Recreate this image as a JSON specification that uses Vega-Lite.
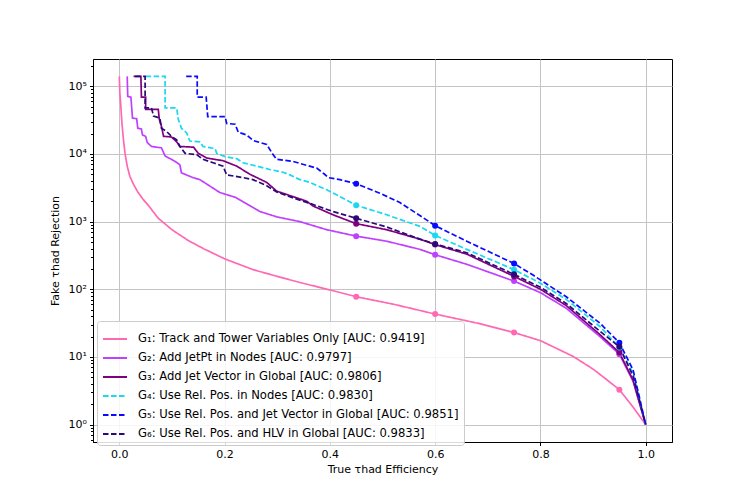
{
  "$schema": "https://vega.github.io/schema/vega-lite/v6.json",
  "width": 579,
  "height": 383,
  "autosize": {"type": "none"},
  "padding": {"left": 93, "top": 59, "right": 75, "bottom": 56},
  "background": "white",
  "config": {
    "font": "DejaVu Sans",
    "view": {"stroke": "black", "strokeWidth": 1},
    "axis": {
      "labelFont": "DejaVu Sans",
      "labelFontSize": 11,
      "labelColor": "black",
      "titleFont": "DejaVu Sans",
      "titleFontSize": 11,
      "titleFontWeight": "normal",
      "titleColor": "black",
      "domainColor": "black",
      "tickColor": "black",
      "tickSize": 3.5,
      "gridColor": "#c4c4c4",
      "gridWidth": 1
    },
    "legend": {
      "labelFont": "DejaVu Sans",
      "labelFontSize": 11.6,
      "labelColor": "black",
      "labelLimit": 0
    }
  },
  "datasets": {
    "curves": [
      {"g": "G1", "x": 0.0, "y": 140000}, {"g": "G1", "x": 0.001, "y": 79400}, {"g": "G1", "x": 0.0025, "y": 56200},
      {"g": "G1", "x": 0.005, "y": 28200}, {"g": "G1", "x": 0.008, "y": 15800}, {"g": "G1", "x": 0.011, "y": 10000},
      {"g": "G1", "x": 0.015, "y": 6610}, {"g": "G1", "x": 0.02, "y": 4680}, {"g": "G1", "x": 0.027, "y": 3550},
      {"g": "G1", "x": 0.035, "y": 2750}, {"g": "G1", "x": 0.045, "y": 2140}, {"g": "G1", "x": 0.055, "y": 1740},
      {"g": "G1", "x": 0.074, "y": 1120}, {"g": "G1", "x": 0.1, "y": 759}, {"g": "G1", "x": 0.131, "y": 525},
      {"g": "G1", "x": 0.16, "y": 398}, {"g": "G1", "x": 0.2, "y": 282}, {"g": "G1", "x": 0.254, "y": 195},
      {"g": "G1", "x": 0.3, "y": 155}, {"g": "G1", "x": 0.343, "y": 126}, {"g": "G1", "x": 0.4, "y": 97.7},
      {"g": "G1", "x": 0.45, "y": 77.6}, {"g": "G1", "x": 0.52, "y": 60.3}, {"g": "G1", "x": 0.6, "y": 43.0},
      {"g": "G1", "x": 0.68, "y": 31.6}, {"g": "G1", "x": 0.75, "y": 22.9}, {"g": "G1", "x": 0.8, "y": 17.4},
      {"g": "G1", "x": 0.862, "y": 10.2}, {"g": "G1", "x": 0.9, "y": 6.61}, {"g": "G1", "x": 0.925, "y": 4.68},
      {"g": "G1", "x": 0.95, "y": 3.28}, {"g": "G1", "x": 0.975, "y": 1.86}, {"g": "G1", "x": 1.0, "y": 1},

      {"g": "G2", "x": 0.015, "y": 140000}, {"g": "G2", "x": 0.016, "y": 70800}, {"g": "G2", "x": 0.022, "y": 69200},
      {"g": "G2", "x": 0.025, "y": 33900}, {"g": "G2", "x": 0.033, "y": 33100}, {"g": "G2", "x": 0.035, "y": 24000},
      {"g": "G2", "x": 0.042, "y": 23400}, {"g": "G2", "x": 0.044, "y": 19100}, {"g": "G2", "x": 0.05, "y": 18200},
      {"g": "G2", "x": 0.053, "y": 14800}, {"g": "G2", "x": 0.061, "y": 12900}, {"g": "G2", "x": 0.08, "y": 12300},
      {"g": "G2", "x": 0.087, "y": 9330}, {"g": "G2", "x": 0.106, "y": 7760}, {"g": "G2", "x": 0.115, "y": 6920},
      {"g": "G2", "x": 0.118, "y": 5250}, {"g": "G2", "x": 0.14, "y": 4470}, {"g": "G2", "x": 0.153, "y": 4170},
      {"g": "G2", "x": 0.191, "y": 2690}, {"g": "G2", "x": 0.22, "y": 2290}, {"g": "G2", "x": 0.267, "y": 1410},
      {"g": "G2", "x": 0.3, "y": 1170}, {"g": "G2", "x": 0.343, "y": 1000}, {"g": "G2", "x": 0.394, "y": 759},
      {"g": "G2", "x": 0.45, "y": 610}, {"g": "G2", "x": 0.508, "y": 513}, {"g": "G2", "x": 0.571, "y": 389},
      {"g": "G2", "x": 0.6, "y": 324}, {"g": "G2", "x": 0.66, "y": 234}, {"g": "G2", "x": 0.75, "y": 132},
      {"g": "G2", "x": 0.8, "y": 89.1}, {"g": "G2", "x": 0.849, "y": 52.5}, {"g": "G2", "x": 0.913, "y": 20.0},
      {"g": "G2", "x": 0.95, "y": 11.0}, {"g": "G2", "x": 0.976, "y": 4.37}, {"g": "G2", "x": 1.0, "y": 1},

      {"g": "G3", "x": 0.027, "y": 140000}, {"g": "G3", "x": 0.041, "y": 140000}, {"g": "G3", "x": 0.042, "y": 69200},
      {"g": "G3", "x": 0.05, "y": 69200}, {"g": "G3", "x": 0.05, "y": 45700}, {"g": "G3", "x": 0.074, "y": 45700},
      {"g": "G3", "x": 0.076, "y": 32400}, {"g": "G3", "x": 0.08, "y": 25700}, {"g": "G3", "x": 0.084, "y": 18200},
      {"g": "G3", "x": 0.099, "y": 17800}, {"g": "G3", "x": 0.109, "y": 15100}, {"g": "G3", "x": 0.115, "y": 12900},
      {"g": "G3", "x": 0.141, "y": 12600}, {"g": "G3", "x": 0.15, "y": 10200}, {"g": "G3", "x": 0.166, "y": 8710},
      {"g": "G3", "x": 0.197, "y": 7940}, {"g": "G3", "x": 0.223, "y": 6610}, {"g": "G3", "x": 0.248, "y": 5010},
      {"g": "G3", "x": 0.28, "y": 3800}, {"g": "G3", "x": 0.299, "y": 2820}, {"g": "G3", "x": 0.33, "y": 2340},
      {"g": "G3", "x": 0.356, "y": 2000}, {"g": "G3", "x": 0.368, "y": 1700}, {"g": "G3", "x": 0.406, "y": 1260},
      {"g": "G3", "x": 0.45, "y": 933}, {"g": "G3", "x": 0.508, "y": 759}, {"g": "G3", "x": 0.571, "y": 550},
      {"g": "G3", "x": 0.6, "y": 457}, {"g": "G3", "x": 0.66, "y": 331}, {"g": "G3", "x": 0.75, "y": 155},
      {"g": "G3", "x": 0.8, "y": 100}, {"g": "G3", "x": 0.849, "y": 57.5}, {"g": "G3", "x": 0.913, "y": 21.4},
      {"g": "G3", "x": 0.95, "y": 11.6}, {"g": "G3", "x": 0.976, "y": 4.57}, {"g": "G3", "x": 1.0, "y": 1},

      {"g": "G4", "x": 0.05, "y": 140000}, {"g": "G4", "x": 0.087, "y": 140000}, {"g": "G4", "x": 0.087, "y": 47900},
      {"g": "G4", "x": 0.109, "y": 47900}, {"g": "G4", "x": 0.112, "y": 32400}, {"g": "G4", "x": 0.118, "y": 24000},
      {"g": "G4", "x": 0.128, "y": 20400}, {"g": "G4", "x": 0.134, "y": 15500}, {"g": "G4", "x": 0.153, "y": 15100},
      {"g": "G4", "x": 0.159, "y": 12900}, {"g": "G4", "x": 0.182, "y": 12000}, {"g": "G4", "x": 0.185, "y": 10200},
      {"g": "G4", "x": 0.201, "y": 9120}, {"g": "G4", "x": 0.223, "y": 8510}, {"g": "G4", "x": 0.235, "y": 7410},
      {"g": "G4", "x": 0.261, "y": 6610}, {"g": "G4", "x": 0.286, "y": 5890}, {"g": "G4", "x": 0.311, "y": 5370},
      {"g": "G4", "x": 0.324, "y": 4900}, {"g": "G4", "x": 0.343, "y": 4170}, {"g": "G4", "x": 0.362, "y": 3800},
      {"g": "G4", "x": 0.394, "y": 2950}, {"g": "G4", "x": 0.419, "y": 2340}, {"g": "G4", "x": 0.45, "y": 1740},
      {"g": "G4", "x": 0.508, "y": 1260}, {"g": "G4", "x": 0.571, "y": 851}, {"g": "G4", "x": 0.6, "y": 624},
      {"g": "G4", "x": 0.66, "y": 389}, {"g": "G4", "x": 0.75, "y": 195}, {"g": "G4", "x": 0.8, "y": 123},
      {"g": "G4", "x": 0.849, "y": 70.8}, {"g": "G4", "x": 0.913, "y": 28.2}, {"g": "G4", "x": 0.95, "y": 13.8},
      {"g": "G4", "x": 0.976, "y": 5.75}, {"g": "G4", "x": 1.0, "y": 1},

      {"g": "G5", "x": 0.127, "y": 140000}, {"g": "G5", "x": 0.148, "y": 140000}, {"g": "G5", "x": 0.148, "y": 69200},
      {"g": "G5", "x": 0.165, "y": 69200}, {"g": "G5", "x": 0.168, "y": 35500}, {"g": "G5", "x": 0.201, "y": 35500},
      {"g": "G5", "x": 0.204, "y": 28200}, {"g": "G5", "x": 0.22, "y": 27500}, {"g": "G5", "x": 0.226, "y": 20900},
      {"g": "G5", "x": 0.242, "y": 19100}, {"g": "G5", "x": 0.254, "y": 15800}, {"g": "G5", "x": 0.28, "y": 13800},
      {"g": "G5", "x": 0.292, "y": 9770}, {"g": "G5", "x": 0.299, "y": 8320}, {"g": "G5", "x": 0.33, "y": 7760},
      {"g": "G5", "x": 0.343, "y": 7240}, {"g": "G5", "x": 0.375, "y": 6170}, {"g": "G5", "x": 0.39, "y": 5010},
      {"g": "G5", "x": 0.397, "y": 4470}, {"g": "G5", "x": 0.419, "y": 4170}, {"g": "G5", "x": 0.45, "y": 3630},
      {"g": "G5", "x": 0.495, "y": 2630}, {"g": "G5", "x": 0.533, "y": 1910}, {"g": "G5", "x": 0.571, "y": 1230},
      {"g": "G5", "x": 0.6, "y": 871}, {"g": "G5", "x": 0.66, "y": 513}, {"g": "G5", "x": 0.75, "y": 240},
      {"g": "G5", "x": 0.786, "y": 162}, {"g": "G5", "x": 0.849, "y": 77.6}, {"g": "G5", "x": 0.913, "y": 31.6},
      {"g": "G5", "x": 0.95, "y": 16.2}, {"g": "G5", "x": 0.976, "y": 6.46}, {"g": "G5", "x": 1.0, "y": 1},

      {"g": "G6", "x": 0.03, "y": 140000}, {"g": "G6", "x": 0.049, "y": 140000}, {"g": "G6", "x": 0.049, "y": 47900},
      {"g": "G6", "x": 0.061, "y": 47900}, {"g": "G6", "x": 0.065, "y": 36300}, {"g": "G6", "x": 0.077, "y": 33900},
      {"g": "G6", "x": 0.08, "y": 24000}, {"g": "G6", "x": 0.09, "y": 21400}, {"g": "G6", "x": 0.099, "y": 18200},
      {"g": "G6", "x": 0.109, "y": 16200}, {"g": "G6", "x": 0.115, "y": 12900}, {"g": "G6", "x": 0.125, "y": 10200},
      {"g": "G6", "x": 0.147, "y": 9770}, {"g": "G6", "x": 0.159, "y": 8320}, {"g": "G6", "x": 0.178, "y": 7410},
      {"g": "G6", "x": 0.197, "y": 6610}, {"g": "G6", "x": 0.204, "y": 4900}, {"g": "G6", "x": 0.235, "y": 4470},
      {"g": "G6", "x": 0.254, "y": 4170}, {"g": "G6", "x": 0.28, "y": 3390}, {"g": "G6", "x": 0.299, "y": 2750},
      {"g": "G6", "x": 0.33, "y": 2240}, {"g": "G6", "x": 0.362, "y": 1860}, {"g": "G6", "x": 0.406, "y": 1410},
      {"g": "G6", "x": 0.45, "y": 1120}, {"g": "G6", "x": 0.508, "y": 832}, {"g": "G6", "x": 0.571, "y": 550},
      {"g": "G6", "x": 0.6, "y": 468}, {"g": "G6", "x": 0.66, "y": 347}, {"g": "G6", "x": 0.75, "y": 166},
      {"g": "G6", "x": 0.8, "y": 107}, {"g": "G6", "x": 0.849, "y": 61.7}, {"g": "G6", "x": 0.913, "y": 24.0},
      {"g": "G6", "x": 0.95, "y": 14.1}, {"g": "G6", "x": 0.976, "y": 5.25}, {"g": "G6", "x": 1.0, "y": 1}
    ]
  },
  "data": {"name": "curves"},
  "layer": [
    {
      "mark": {"type": "line", "strokeWidth": 1.7, "clip": true},
      "encoding": {
        "x": {
          "field": "x",
          "type": "quantitative",
          "scale": {"domain": [-0.05, 1.05], "nice": false, "zero": false},
          "axis": {
            "title": "True τhad Efficiency",
            "values": [0, 0.2, 0.4, 0.6, 0.8, 1.0],
            "format": ".1f",
            "grid": true,
            "labelPadding": 3,
            "titlePadding": 4
          }
        },
        "y": {
          "field": "y",
          "type": "quantitative",
          "scale": {"type": "log", "domain": [0.553, 253000], "nice": false},
          "axis": {
            "title": "Fake τhad Rejection",
            "values": [1, 10, 100, 1000, 10000, 100000],
            "labelExpr": "'10' + ['⁰','¹','²','³','⁴','⁵'][round(log(datum.value) / LN10)]",
            "grid": true,
            "labelPadding": 3,
            "titlePadding": 8
          }
        },
        "color": {
          "field": "g",
          "type": "nominal",
          "scale": {
            "domain": ["G1", "G2", "G3", "G4", "G5", "G6"],
            "range": ["#ff69b4", "#bf40ff", "#800080", "#1ad8f0", "#0a0aff", "#2a0a78"]
          },
          "legend": {
            "title": null,
            "orient": "none",
            "legendX": 4,
            "legendY": 262,
            "padding": 5,
            "fillColor": "rgba(255,255,255,0.85)",
            "strokeColor": "#cccccc",
            "cornerRadius": 3,
            "symbolSize": 576,
            "symbolStrokeWidth": 2,
            "labelOffset": 10,
            "labelLimit": 0,
            "rowPadding": 0,
            "labelExpr": "['G₁: Track and Tower Variables Only [AUC: 0.9419]', 'G₂: Add JetPt in Nodes [AUC: 0.9797]', 'G₃: Add Jet Vector in Global [AUC: 0.9806]', 'G₄: Use Rel. Pos. in Nodes [AUC: 0.9830]', 'G₅: Use Rel. Pos. and Jet Vector in Global [AUC: 0.9851]', 'G₆: Use Rel. Pos. and HLV in Global [AUC: 0.9833]'][indexof(['G1','G2','G3','G4','G5','G6'], datum.label)]"
          }
        },
        "strokeDash": {
          "field": "g",
          "type": "nominal",
          "scale": {
            "domain": ["G1", "G2", "G3", "G4", "G5", "G6"],
            "range": [[1, 0], [1, 0], [1, 0], [5.5, 2.5], [5.5, 2.5], [5.5, 2.5]]
          },
          "legend": null
        },
        "order": [
          {"field": "x", "type": "quantitative", "sort": "ascending"},
          {"field": "y", "type": "quantitative", "sort": "descending"}
        ]
      }
    },
    {
      "transform": [{"filter": "indexof([0.45, 0.6, 0.75, 0.95], datum.x) >= 0"}],
      "mark": {"type": "circle", "size": 36, "opacity": 1},
      "encoding": {
        "x": {"field": "x", "type": "quantitative"},
        "y": {
          "field": "y",
          "type": "quantitative",
          "axis": {
            "orient": "left",
            "title": null,
            "labels": false,
            "grid": false,
            "domain": false,
            "tickSize": 2.5,
            "tickColor": "black",
            "values": [0.6, 0.7, 0.8, 0.9, 2, 3, 4, 5, 6, 7, 8, 9, 20, 30, 40, 50, 60, 70, 80, 90, 200, 300, 400, 500, 600, 700, 800, 900, 2000, 3000, 4000, 5000, 6000, 7000, 8000, 9000, 20000, 30000, 40000, 50000, 60000, 70000, 80000, 90000, 200000]
          }
        },
        "color": {"field": "g", "type": "nominal", "legend": null}
      }
    }
  ],
  "resolve": {"axis": {"y": "independent"}}
}
